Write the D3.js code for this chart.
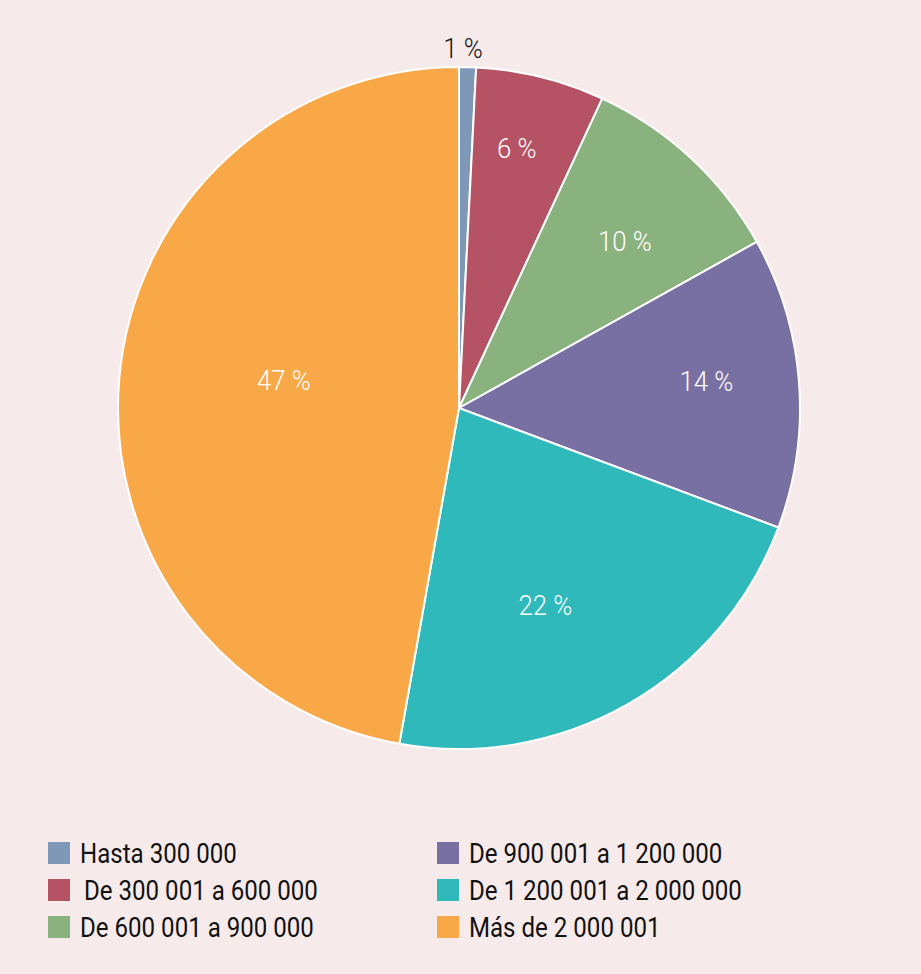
<!DOCTYPE html>
<html>
<head>
<meta charset="utf-8">
<script src="https://cdn.jsdelivr.net/npm/d3@7"></script>
<style>
  body { margin: 0; background: #f7eaea; }
  text { font-family: Roboto, "DejaVu Sans Condensed", sans-serif; }
</style>
</head>
<body>
<div id="chart"></div>
<script>
// data
var categories = ["Hasta 300 000", "De 300 001 a 600 000", "De 600 001 a 900 000",
                  "De 900 001 a 1 200 000", "De 1 200 001 a 2 000 000", "Más de 2 000 001"];
var values = [0.8, 6.1, 10.0, 13.8, 22.1, 47.2];
var labels = ["1 %", "6 %", "10 %", "14 %", "22 %", "47 %"];
var colors = ["#7f98b8", "#b55264", "#8ab27e", "#7870a2", "#2fb9bb", "#f9a847"];

// label placement: share of radius and a small turn (degrees) off the mid angle
var labelR = [1.056, 0.78, 0.69, 0.73, 0.63, 0.52];
var labelTurn = [-0.8, -1.3, 2, -2, 6, 4];

var width = 921, height = 974;
var cx = 459, cy = 408, radius = 341;

var svg = d3.select("#chart")
  .append("svg")
    .attr("width", width)
    .attr("height", height);

svg.append("rect")
    .attr("width", width)
    .attr("height", height)
    .attr("fill", "#f7eaea");

var g = svg.append("g")
    .attr("transform", "translate(" + cx + "," + cy + ")");

var pie = d3.pie().sort(null).value(function(d) { return d; });
var arcs = pie(values);

var arc = d3.arc().innerRadius(0).outerRadius(radius);

g.selectAll("path")
  .data(arcs)
  .enter()
  .append("path")
    .attr("d", arc)
    .attr("fill", function(d, i) { return colors[i]; })
    .attr("stroke", "#ffffff")
    .attr("stroke-width", 2);

// the original face is a condensed one, so squeeze the text sideways
g.selectAll(".lbl")
  .data(arcs)
  .enter()
  .append("text")
    .attr("class", "lbl")
    .attr("transform", function(d, i) {
      var r = radius * labelR[i];
      var a = (d.startAngle + d.endAngle) / 2 + labelTurn[i] * Math.PI / 180;
      return "translate(" + (Math.sin(a) * r) + "," + (-Math.cos(a) * r) + ") scale(0.92,1)";
    })
    .attr("text-anchor", "middle")
    .attr("dy", "0.36em")
    .style("font-size", "28px")
    .style("font-weight", 300)
    .attr("fill", function(d, i) { return i === 0 ? "#111111" : "#ffffff"; })
    .text(function(d, i) { return labels[i]; });

// legend, two columns of three
var legend = svg.append("g");
var item = legend.selectAll("g")
  .data(categories)
  .enter()
  .append("g")
    .attr("transform", function(d, i) {
      var col = Math.floor(i / 3), row = i % 3;
      return "translate(" + (48 + col * 389) + "," + (853 + row * 37) + ")";
    });

item.append("rect")
    .attr("x", 0)
    .attr("y", -11)
    .attr("width", 22)
    .attr("height", 22)
    .attr("fill", function(d, i) { return colors[i]; });

item.append("text")
    .attr("transform", function(d, i) { return "translate(" + (i === 1 ? 36 : 32) + ",0) scale(0.86,1)"; })
    .attr("dy", "0.36em")
    .style("font-size", "28px")
    .attr("fill", "#111111")
    .text(function(d) { return d; });
</script>
</body>
</html>
